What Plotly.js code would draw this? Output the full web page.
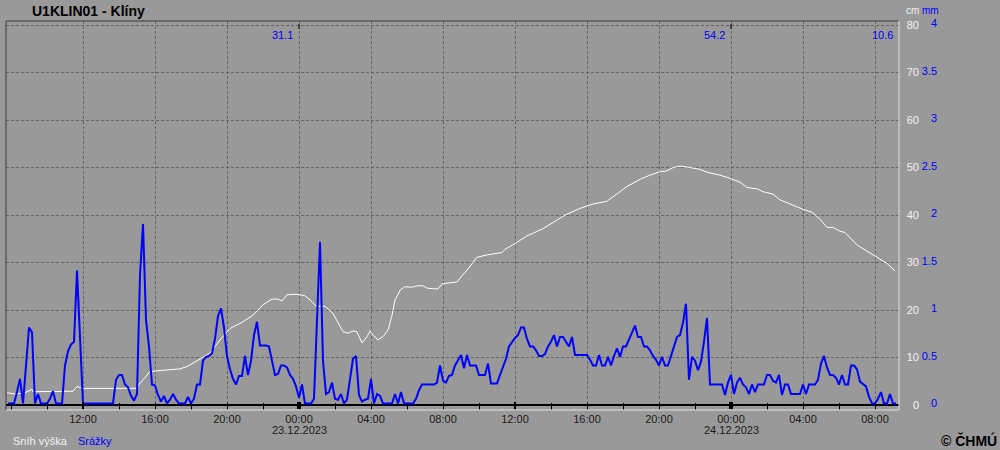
<!DOCTYPE html>
<html><head><meta charset="utf-8">
<script src="https://cdn.plot.ly/plotly-3.0.1.min.js"></script>
<style>html,body{margin:0;padding:0;background:#999999;}#chart{width:1000px;height:450px;}</style>
</head><body><div id="chart"></div>
<script>
const stationTitle = 'U1KLIN01 - Klíny';
const copyrightText = '© ČHMÚ';
const seriesNames = ['Sníh výška', 'Srážky'];
const unitNames = ['cm', 'mm'];

// Snow depth (cm)
const snowTimes = [
 '2023-12-22 07:47','2023-12-22 08:13','2023-12-22 08:47','2023-12-22 09:10','2023-12-22 09:13','2023-12-22 10:53',
 '2023-12-22 11:27','2023-12-22 11:40','2023-12-22 11:57','2023-12-22 15:00','2023-12-22 15:03','2023-12-22 15:20',
 '2023-12-22 15:43','2023-12-22 16:07','2023-12-22 16:50','2023-12-22 17:23','2023-12-22 17:47','2023-12-22 18:07',
 '2023-12-22 18:30','2023-12-22 19:03','2023-12-22 19:37','2023-12-22 20:10','2023-12-22 20:53','2023-12-22 21:27',
 '2023-12-22 22:00','2023-12-22 22:30','2023-12-22 22:50','2023-12-22 23:03','2023-12-22 23:20','2023-12-22 23:53',
 '2023-12-23 00:20','2023-12-23 00:37','2023-12-23 00:57','2023-12-23 01:27','2023-12-23 01:53','2023-12-23 02:10',
 '2023-12-23 02:27','2023-12-23 02:43','2023-12-23 03:00','2023-12-23 03:13','2023-12-23 03:30','2023-12-23 03:47',
 '2023-12-23 03:57','2023-12-23 04:07','2023-12-23 04:23','2023-12-23 04:40','2023-12-23 04:57','2023-12-23 05:10',
 '2023-12-23 05:20','2023-12-23 05:30','2023-12-23 05:37','2023-12-23 05:53','2023-12-23 06:17','2023-12-23 06:33',
 '2023-12-23 06:53','2023-12-23 07:07','2023-12-23 07:43','2023-12-23 07:57','2023-12-23 08:47','2023-12-23 09:03',
 '2023-12-23 09:23','2023-12-23 09:53','2023-12-23 10:27','2023-12-23 11:17','2023-12-23 11:27','2023-12-23 12:00',
 '2023-12-23 12:40','2023-12-23 13:33','2023-12-23 14:47','2023-12-23 15:37','2023-12-23 16:20','2023-12-23 17:07',
 '2023-12-23 17:27','2023-12-23 18:13','2023-12-23 18:57','2023-12-23 19:30','2023-12-23 20:03','2023-12-23 20:27',
 '2023-12-23 20:47','2023-12-23 21:10','2023-12-23 21:43','2023-12-23 22:17','2023-12-23 22:40','2023-12-23 23:23',
 '2023-12-23 23:57','2023-12-24 00:30','2023-12-24 00:53','2023-12-24 01:27','2023-12-24 01:47','2023-12-24 02:20',
 '2023-12-24 02:43','2023-12-24 03:17','2023-12-24 03:40','2023-12-24 04:00','2023-12-24 04:30','2023-12-24 04:57',
 '2023-12-24 05:20','2023-12-24 05:40','2023-12-24 06:03','2023-12-24 06:20','2023-12-24 07:00','2023-12-24 07:33',
 '2023-12-24 07:53','2023-12-24 08:40','2023-12-24 09:07'
];
const snowCm = [
 2.6,2.3,2.6,3.3,2.8,2.8,
 2.9,3.9,3.5,3.5,4.0,5.3,
 7.0,7.2,7.4,7.6,8.1,8.8,
 9.6,10.9,13.7,16.1,17.5,18.9,
 21.1,22.3,22.3,21.9,23.2,23.3,
 23.0,22.1,20.8,20.8,19.3,17.5,
 15.4,15.1,15.6,15.4,13.1,14.4,
 15.6,14.7,13.7,14.4,15.8,18.9,
 22.1,23.3,24.2,24.9,24.8,25.1,
 25.1,24.6,24.4,25.5,25.9,27.2,
 28.6,31.1,31.6,32.1,32.8,34.0,
 35.6,37.1,40.0,41.4,42.3,42.9,
 43.9,46.0,47.5,48.4,49.1,49.3,
 50.0,50.3,50.0,49.6,49.0,48.4,
 47.7,46.9,45.8,45.5,44.9,44.4,
 43.2,42.3,41.6,41.2,40.6,39.1,
 37.4,37.4,36.6,36.3,33.7,32.4,
 31.6,29.8,28.2
];

// Precipitation (mm per 10 min), first value at precipStart
const precipStart = '2023-12-22 07:50';
const precipStepMinutes = 10;
const precipMm = [
 0,
 0,0,0.12,0.26,0,0.45,        // 22.12 08h
 0.8,0.75,0,0.1,0,0,           // 09h
 0,0.05,0.13,0,0,0,            // 10h
 0.4,0.55,0.62,0.65,1.4,0.65,  // 11h
 0,0,0,0,0,0,                  // 12h
 0,0,0,0,0,0.25,               // 13h
 0.3,0.3,0.2,0.17,0.08,0.03,   // 14h
 0.1,1.35,1.89,0.88,0.6,0.2,   // 15h
 0.19,0.09,0.02,0.08,0,0.04,   // 16h
 0.1,0.04,0,0,0,0.07,          // 17h
 0,0.05,0.2,0.2,0.45,0.49,     // 18h
 0.5,0.53,0.68,0.92,1.0,0.8,   // 19h
 0.5,0.36,0.26,0.2,0.29,0.29,  // 20h
 0.5,0.3,0.45,0.72,0.86,0.61,  // 21h
 0.61,0.61,0.6,0.43,0.3,0.31,  // 22h
 0.4,0.4,0.38,0.3,0.26,0.18,   // 23h
 0.06,0.2,0,0,0,0.05,          // 23.12 00h
 0.8,1.7,0.45,0.1,0.12,0.22,   // 01h
 0.05,0.04,0.1,0,0.04,0.25,    // 02h
 0.47,0.5,0.09,0.02,0.04,0.05, // 03h
 0.26,0,0.1,0.08,0,0,          // 04h
 0,0,0.1,0,0.12,0,             // 05h
 0,0,0,0.05,0.14,0.2,          // 06h
 0.2,0.2,0.2,0.2,0.22,0.4,     // 07h
 0.24,0.22,0.29,0.3,0.4,0.45,  // 08h
 0.51,0.37,0.51,0.4,0.4,0.4,   // 09h
 0.3,0.3,0.3,0.42,0.21,0.21,   // 10h
 0.21,0.3,0.38,0.47,0.6,0.65,  // 11h
 0.69,0.72,0.8,0.8,0.68,0.6,   // 12h
 0.6,0.56,0.5,0.5,0.52,0.6,    // 13h
 0.65,0.72,0.6,0.7,0.7,0.65,   // 14h
 0.6,0.7,0.51,0.51,0.51,0.51,  // 15h
 0.51,0.46,0.4,0.4,0.51,0.4,   // 16h
 0.4,0.49,0.4,0.5,0.58,0.49,   // 17h
 0.6,0.6,0.68,0.75,0.82,0.7,   // 18h
 0.7,0.6,0.6,0.56,0.5,0.46,    // 19h
 0.4,0.49,0.4,0.4,0.5,0.6,     // 20h
 0.7,0.72,0.85,1.05,0.25,0.49, // 21h
 0.45,0.35,0.44,0.65,0.9,0.2,  // 22h
 0.2,0.2,0.2,0.2,0.09,0.22,    // 23h
 0.3,0.1,0.22,0.27,0.2,0.17,   // 24.12 00h
 0.1,0.2,0.12,0.2,0.2,0.2,     // 01h
 0.3,0.3,0.24,0.22,0.3,0.09,   // 02h
 0.2,0.2,0.1,0.1,0.1,0.1,      // 03h
 0.2,0.1,0.2,0.2,0.2,0.25,     // 04h
 0.42,0.5,0.38,0.3,0.3,0.27,   // 05h
 0.2,0.3,0.2,0.2,0.4,0.4,      // 06h
 0.36,0.23,0.2,0.18,0.07,0,    // 07h
 0,0.05,0.12,0,0,0.1,          // 08h
 0,0                           // 09h
];

const xRange = ['2023-12-22 07:43:20', '2023-12-24 09:20'];
const xTickTimes = ['2023-12-22 12:00','2023-12-22 16:00','2023-12-22 20:00','2023-12-23 00:00','2023-12-23 04:00','2023-12-23 08:00',
 '2023-12-23 12:00','2023-12-23 16:00','2023-12-23 20:00','2023-12-24 00:00','2023-12-24 04:00','2023-12-24 08:00'];
const xTickLabels = ['12:00','16:00','20:00','00:00','04:00','08:00','12:00','16:00','20:00','00:00','04:00','08:00'];
const midnights = ['2023-12-23 00:00','2023-12-24 00:00'];
const dateLabels = ['23.12.2023','24.12.2023'];
const noons = ['2023-12-22 12:00','2023-12-23 12:00'];
const cmTicks = [0,10,20,30,40,50,60,70,80];
const cmTickLabels = ['0','10','20','30','40','50','60','70','80'];
const mmTicks = [0,0.5,1,1.5,2,2.5,3,3.5,4];
const mmTickLabels = ['0','0.5','1','1.5','2','2.5','3','3.5','4'];
const dayEnds = ['2023-12-23 00:00','2023-12-24 00:00','2023-12-24 09:20'];
const dayTotals = ['31.1','54.2','10.6'];

// ---- layout geometry ----
const W = 1000, H = 450, ML = 6, MR = 0, MT = 21, MB = 40;
const PW = W - ML - MR, PH = H - MT - MB;
const px2x = p => (p - ML) / PW;
const px2y = p => (H - MB - p) / PH;
const FONT = 'Liberation Sans, Arial, sans-serif';
const BLUE = '#0000ff';
const LIGHT = '#f2f2f2';
const DARK = '#1a1a1a';
const cmRange = [-1.053, 80.842];
const mmOffset = 0.016;
const mmRange = [cmRange[0] / 20 - mmOffset, cmRange[1] / 20 - mmOffset];

const traces = [
  {type: 'scatter', mode: 'lines', name: seriesNames[0], x: snowTimes, y: snowCm,
   line: {color: '#ffffff', width: 1}, xaxis: 'x', yaxis: 'y', hoverinfo: 'skip'},
  {type: 'scatter', mode: 'lines', name: seriesNames[1], x0: precipStart, dx: precipStepMinutes * 60000, y: precipMm,
   line: {color: BLUE, width: 2}, xaxis: 'x', yaxis: 'y2', hoverinfo: 'skip'}
];

const shapes = [
  {type: 'line', xref: 'x domain', yref: 'y domain', x0: 0, x1: 0, y0: 0, y1: 1, line: {color: '#3a3a3a', width: 1}},
  {type: 'line', xref: 'x domain', yref: 'y domain', x0: 0, x1: 1, y0: 1, y1: 1, line: {color: '#3a3a3a', width: 1}},
  {type: 'line', xref: 'x domain', yref: 'y domain', x0: 1, x1: 1, y0: 0, y1: 1, line: {color: '#e2e2e2', width: 1}},
  {type: 'line', xref: 'x domain', yref: 'y domain', x0: 0, x1: 1, y0: 0, y1: 0, line: {color: '#e2e2e2', width: 1}}
];
midnights.forEach(t => {
  shapes.push({type: 'rect', xref: 'x', yref: 'y', xsizemode: 'pixel', xanchor: t, x0: -2, x1: 2,
    ysizemode: 'pixel', yanchor: 0, y0: -4, y1: 3, fillcolor: '#000', line: {width: 0}});
  shapes.push({type: 'line', xref: 'x', yref: 'y domain', x0: t, x1: t, ysizemode: 'pixel', yanchor: 1, y0: -3, y1: -8,
    line: {color: '#000', width: 1}});
});
noons.forEach(t => {
  shapes.push({type: 'rect', xref: 'x', yref: 'y', xsizemode: 'pixel', xanchor: t, x0: -1, x1: 1,
    ysizemode: 'pixel', yanchor: 0, y0: -4, y1: 3, fillcolor: '#000', line: {width: 0}});
});

const annotations = [
  {xref: 'paper', yref: 'paper', x: px2x(921), y: px2y(11), xanchor: 'right', yanchor: 'middle', showarrow: false,
   text: unitNames[0], font: {family: FONT, size: 10, color: LIGHT}},
  {xref: 'paper', yref: 'paper', x: px2x(941), y: px2y(11), xanchor: 'right', yanchor: 'middle', showarrow: false,
   text: unitNames[1], font: {family: FONT, size: 10, color: BLUE}},
  {xref: 'paper', yref: 'paper', x: px2x(11), y: px2y(441), xanchor: 'left', yanchor: 'middle', showarrow: false,
   text: seriesNames[0], font: {family: FONT, size: 11, color: LIGHT}},
  {xref: 'paper', yref: 'paper', x: px2x(76), y: px2y(441), xanchor: 'left', yanchor: 'middle', showarrow: false,
   text: seriesNames[1], font: {family: FONT, size: 11, color: BLUE}},
  {xref: 'paper', yref: 'paper', x: px2x(999), y: px2y(440), xanchor: 'right', yanchor: 'middle', showarrow: false,
   text: '<b>' + copyrightText + '</b>', font: {family: FONT, size: 14, color: '#000'}}
];
dayEnds.forEach((t, i) => annotations.push({xref: 'x', yref: 'paper', x: t, y: px2y(35), xanchor: 'right', yanchor: 'middle',
  xshift: -4, showarrow: false, text: dayTotals[i], font: {family: FONT, size: 11, color: BLUE}}));
midnights.forEach((t, i) => annotations.push({xref: 'x', yref: 'paper', x: t, y: px2y(430), xanchor: 'center', yanchor: 'middle',
  showarrow: false, text: dateLabels[i], font: {family: FONT, size: 11, color: DARK}}));

const gridStyle = {gridcolor: '#666666', gridwidth: 1, griddash: '3px,2px'};

const layout = {
  width: W, height: H,
  margin: {l: ML, r: MR, t: MT, b: MB, pad: 0},
  paper_bgcolor: '#999999', plot_bgcolor: '#999999',
  font: {family: FONT, size: 11, color: DARK},
  showlegend: false,
  title: {text: '<b>' + stationTitle + '</b>', font: {family: FONT, size: 14, color: '#000'},
    xref: 'container', yref: 'container', x: 32 / W, xanchor: 'left', y: 1 - 11 / H, yanchor: 'middle'},
  xaxis: Object.assign({
    type: 'date', domain: [0, (899 - ML) / PW], range: xRange, anchor: 'free', position: px2y(402),
    showline: false, zeroline: false, showgrid: true,
    tickmode: 'array', tickvals: xTickTimes, ticktext: xTickLabels,
    ticks: 'outside', ticklen: 7, tickwidth: 1, tickcolor: '#000',
    tickfont: {family: FONT, size: 11, color: DARK},
    minor: {tickmode: 'linear', tick0: '2023-12-22 00:00', dtick: 7200000, ticks: 'outside', ticklen: 7, tickwidth: 1,
      tickcolor: '#000', showgrid: false},
    fixedrange: true
  }, gridStyle),
  yaxis: Object.assign({
    range: cmRange, domain: [0, 1], anchor: 'free', side: 'right', position: px2x(922),
    tickmode: 'array', tickvals: cmTicks, ticktext: cmTickLabels, ticklabelposition: 'inside', ticklabeloverflow: 'allow',
    ticks: '', showline: false, showgrid: true, zeroline: true, zerolinecolor: '#000', zerolinewidth: 2,
    tickfont: {family: FONT, size: 11, color: LIGHT}, fixedrange: true
  }, gridStyle),
  yaxis2: {
    range: mmRange, overlaying: 'y', anchor: 'free', side: 'right', position: px2x(940),
    tickmode: 'array', tickvals: mmTicks, ticktext: mmTickLabels, ticklabelposition: 'inside', ticklabeloverflow: 'allow',
    ticks: '', showline: false, showgrid: false, zeroline: false,
    tickfont: {family: FONT, size: 11, color: BLUE}, fixedrange: true
  },
  shapes: shapes,
  annotations: annotations
};

Plotly.newPlot('chart', traces, layout, {displayModeBar: false, staticPlot: true});
</script>
</body></html>
